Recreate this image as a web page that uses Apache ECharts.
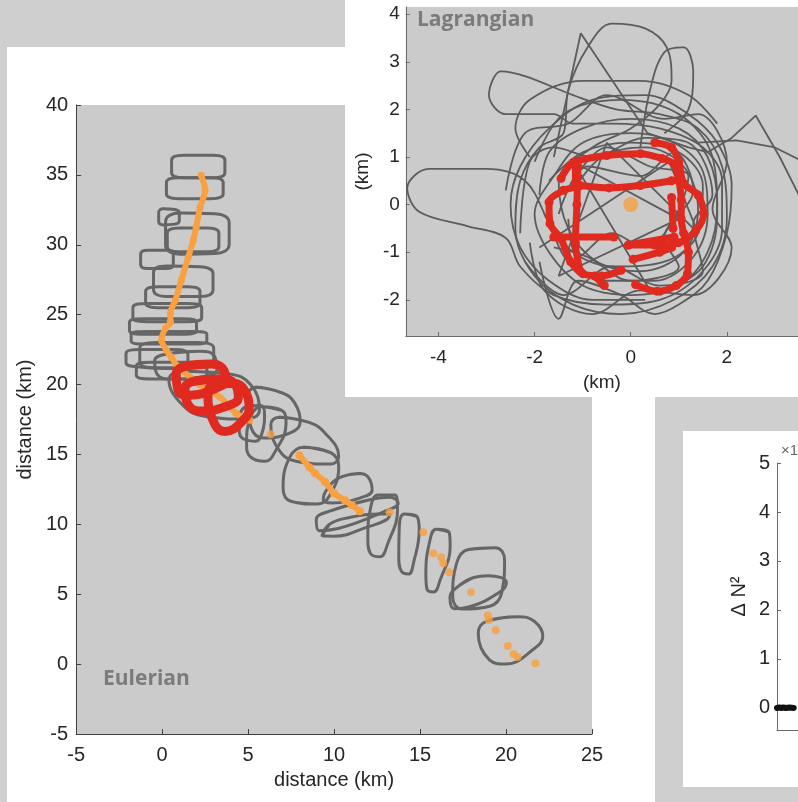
<!DOCTYPE html>
<html>
<head>
<meta charset="utf-8">
<script src="https://cdn.jsdelivr.net/npm/echarts/dist/echarts.min.js"></script>
<style>
  html, body { margin: 0; padding: 0; }
  body { width: 798px; height: 802px; background: #cfcfcf; position: relative; overflow: hidden; }
  .panel { position: absolute; background: #ffffff; }
  #main { left: 7px; top: 47px; width: 648px; height: 755px; }
  #lag { left: 345px; top: 0px; width: 453px; height: 397px; }
  #dn { left: 683px; top: 431px; width: 115px; height: 356px; }
</style>
</head>
<body>
<div id="main" class="panel"></div>
<div id="lag" class="panel"></div>
<div id="dn" class="panel"></div>
<script>
// ---------------- DATA (km) ----------------
// Eulerian ship track: traced loops, 4 corners each (x km, y km)
const eulerLoops = [
  [[0.55,36.4],[3.65,36.4],[3.65,34.8],[0.55,34.8]],
  [[0.25,34.8],[3.55,34.8],[3.55,33.3],[0.25,33.3]],
  [[-0.2,32.6],[1.0,32.5],[1.0,31.5],[-0.2,31.4]],
  [[0.2,32.3],[3.9,32.2],[3.9,29.4],[0.2,29.3]],
  [[0.3,31.2],[3.3,31.2],[3.3,29.5],[0.3,29.5]],
  [[-1.25,29.6],[0.65,29.6],[0.65,28.3],[-1.25,28.3]],
  [[-0.5,28.5],[2.96,28.4],[2.96,26.3],[-0.5,26.3]],
  [[-0.96,27.0],[2.2,27.0],[2.2,25.5],[-0.96,25.5]],
  [[-1.7,25.8],[2.3,25.8],[2.3,24.5],[-1.7,24.5]],
  [[-1.9,24.7],[2.0,24.7],[2.0,23.6],[-1.9,23.6]],
  [[-1.8,23.8],[2.6,23.8],[2.6,22.9],[-1.8,22.9]],
  [[-1.3,23.0],[3.0,23.0],[3.0,21.2],[-1.3,21.2]],
  [[-2.1,22.5],[1.5,22.5],[1.5,21.1],[-2.1,21.3]],
  [[-1.5,21.6],[2.6,21.6],[2.6,20.4],[-1.5,20.4]],
  [[-0.5,22.1],[2.96,22.46],[3.25,20.67],[-0.21,20.31]],
  [[0.08,21.03],[4.98,20.67],[5.85,17.45],[1.52,17.81]],
  [[4.87,19.96],[7.58,19.24],[8.15,16.74],[5.27,16.02]],
  [[5.27,18.53],[7.46,18.03],[6.31,14.38],[4.81,14.95]],
  [[4.58,18.38],[6.02,18.53],[5.73,15.88],[4.46,16.17]],
  [[6.13,17.81],[9.17,17.17],[10.58,14.23],[7.0,14.59]],
  [[7.58,15.67],[10.46,14.95],[9.6,11.37],[6.88,11.73]],
  [[10.0,13.3],[11.9,13.73],[12.3,12.09],[9.19,11.37]],
  [[8.9,10.66],[13.06,12.09],[13.92,11.37],[9.19,9.23]],
  [[9.13,8.87],[9.88,10.3],[13.35,10.87],[12.94,10.16]],
  [[12.19,12.09],[13.92,12.09],[12.88,7.58],[11.9,8.01]],
  [[13.81,10.8],[15.08,10.52],[14.5,6.37],[13.75,6.72]],
  [[15.65,9.73],[16.98,9.37],[15.94,5.08],[15.25,5.44]],
  [[17.21,8.15],[19.98,8.37],[19.69,4.22],[16.81,3.86]],
  [[16.64,5.08],[18.54,6.51],[20.44,5.65],[17.09,3.65]],
  [[18.13,2.93],[21.42,3.51],[22.34,1.57],[19.29,-0.43]]
];
// Eulerian red (sampled) loops
const eulerRedLoops = [
  [[0.77,21.24],[3.42,21.53],[3.77,19.96],[1.0,19.03]],
  [[1.23,20.17],[4.12,20.46],[4.52,18.67],[1.69,17.95]],
  [[2.5,19.96],[4.69,20.1],[5.16,17.81],[3.25,16.31]]
];
// Orange drifter track (dense part)
const orangeTrack = [
  [2.27,34.98],[2.5,33.9],[2.21,32.69],[1.98,31.26],[1.81,30.33],[1.52,29.11],
  [1.12,27.47],[0.77,26.04],[0.48,25.11],[0.48,24.46],[0.19,24.03],[-0.04,23.18],
  [0.25,22.46],[0.54,21.96],[0.94,21.24],[1.63,20.53],[2.21,19.96],[3.37,19.1],
  [4.29,17.95],[5.1,17.45]
];
const orangeCluster = [
  [7.98,14.95],[8.56,14.09],[8.9,13.66],[9.48,13.02],[10.0,12.23],[10.63,11.73],[11.04,11.37],[11.5,10.94]
];
const orangeDots = [
  [6.31,16.45],[13.23,10.87],[15.19,9.44],[15.77,7.94],[16.23,7.65],[16.35,7.22],[16.69,6.58],
  [17.96,5.15],[18.94,3.5],[19.0,3.15],[19.4,2.43],[20.1,1.29],[20.44,0.72],[20.67,0.5],[21.71,0.07]
];

// Lagrangian frame (km)
const lagGrayLoops = [
  [[-1.9,0.2],[-1.7,1.1],[-1.0,1.6],[0.0,1.8],[1.0,1.6],[1.6,1.0],[1.8,0.0],[1.6,-1.0],[1.0,-1.7],[0.0,-1.9],
   [-1.0,-1.7],[-1.7,-1.0],[-2.0,-0.2],[-1.6,0.6],[-1.0,1.3],[0.0,1.5],[0.9,1.3],[1.5,0.7],[1.6,-0.2],[1.3,-1.1],
   [0.5,-1.6],[-0.5,-1.6],[-1.3,-1.2],[-1.7,-0.4],[-2.2,0.5],[-3.0,0.75],[-4.2,0.75],[-4.65,0.35],[-4.4,-0.15],
   [-3.4,-0.45],[-2.6,-0.7],[-2.3,-1.3],[-1.6,-1.9],[-0.5,-2.1],[0.6,-2.0],[1.5,-1.4],[1.9,-0.5],[1.9,0.5],
   [1.5,1.2],[0.6,1.6],[-0.4,1.7],[-1.2,1.7],[-1.6,1.9],[-2.6,1.9],[-2.95,2.3],[-2.7,2.8],[-2.2,2.7],[-1.2,2.3],
   [-0.3,2.0],[0.6,1.9],[1.4,1.6],[1.9,0.8],[2.0,-0.3],[1.7,-1.3],[0.9,-2.0],[-0.2,-2.3],[-1.2,-2.1],[-2.0,-1.5],
   [-2.4,-0.5],[-2.3,0.5],[-1.9,1.2],[-1.4,1.5],[-1.3,2.4],[-0.9,3.3],[-0.4,3.8],[0.3,3.7],[0.75,3.3],[0.85,2.6],
   [0.6,2.1],[0.0,1.6],[-0.8,1.2],[-1.5,0.5],[-1.3,-0.5],[-0.7,-1.2],[0.2,-1.4],[1.1,-1.0],[1.4,-0.1],[1.1,0.8],
   [0.3,1.2],[-0.6,1.0],[-1.2,0.3]],
  [[-1.9,-1.2],[-1.5,-2.4],[-1.1,-1.6],[-0.2,-1.9],[0.5,-2.3],[1.0,-2.1],[1.6,-1.6],[2.0,-0.6],[2.1,0.4],[1.8,1.3],
   [1.2,1.9],[0.3,2.3],[-0.8,2.2],[-1.7,1.6],[-2.3,0.8],[-2.5,0.0],[-2.3,-0.9],[-1.7,-1.6],[-0.8,-2.0],[0.3,-2.0]],
  [[0.2,1.2],[0.4,2.4],[0.7,3.2],[1.1,3.3],[1.3,2.8],[1.2,2.0],[0.7,1.5]],
  [[-2.1,1.0],[-2.4,1.6],[-2.1,2.2],[-1.0,2.6],[0.2,2.6],[1.2,2.3],[1.8,1.7]],
  [[-2.3,-0.6],[-2.1,0.9],[-1.6,1.2],[-0.8,1.0],[0.3,1.4],[1.2,1.3],[1.7,0.2],[1.3,-0.4],[1.5,-1.4],[0.6,-1.7],
   [-0.4,-1.3],[-1.4,-1.9],[-2.2,-1.2]],
  [[-1.5,-0.2],[-0.9,0.8],[0.2,0.6],[0.9,1.1],[1.3,0.3],[0.7,-0.7],[1.0,-1.3],[0.0,-1.6],[-0.9,-1.1],[-1.6,-0.9]],
  [[-2.6,0.3],[-2.2,1.5],[-1.3,1.7],[-0.5,2.3],[0.7,1.8],[1.4,1.9],[2.0,0.9],[1.7,-0.1],[2.1,-0.9],[1.3,-1.9],
   [0.2,-1.8],[-0.8,-2.3],[-1.8,-1.8],[-2.1,-0.8]],
  [[-1.2,0.5],[-0.5,1.2],[0.4,0.8],[1.2,0.6],[0.9,-0.3],[0.3,-0.9],[-0.4,-0.6],[-1.1,-1.1],[-1.3,-0.3]],
  [[-2.0,0.9],[-1.4,1.9],[-0.2,2.2],[1.0,1.9],[1.7,1.0],[1.8,-0.2],[1.5,-1.3],[0.6,-1.9]],
  [[-1.8,-0.2],[-1.2,-1.0],[-0.3,-1.3],[0.7,-1.2],[1.4,-0.6],[1.5,0.4],[1.0,1.1],[0.0,1.3],[-1.0,1.1],[-1.7,0.5]]
];
const lagGrayLines = [
  [[-1.6,1.0],[-1.04,3.6],[0.35,1.5],[1.2,1.2],[1.6,1.1],[2.1,1.4],[2.6,1.87],[3.1,1.0],[3.6,0.0]],
  [[1.4,1.3],[2.2,1.35],[3.0,1.2],[3.6,0.9]],
  [[-1.9,-0.9],[0.8,0.9],[1.4,-0.6],[-0.5,1.3],[-1.5,-1.5],[1.0,-0.3],[-1.2,0.9],[0.4,-1.8]]
];
const lagRedPaths = [
  [[-1.45,0.55],[-1.2,0.88],[-0.5,1.03],[0.2,1.07],[0.65,0.97],[0.9,0.85],[1.0,0.5],[1.05,0.1],[1.05,-0.3],
   [1.1,-0.6],[1.2,-1.0],[1.18,-1.45],[0.95,-1.7],[0.55,-1.82],[0.1,-1.68]],
  [[0.5,1.3],[0.85,1.2],[1.0,0.9],[1.1,0.45],[1.4,0.2],[1.52,-0.2],[1.35,-0.55],[1.0,-0.8],[0.5,-0.85],[-0.05,-0.85]],
  [[-1.15,0.9],[-1.15,0.4],[-1.4,0.3],[-1.7,0.05],[-1.68,-0.4],[-1.45,-0.72],[-1.25,-1.2],[-1.0,-1.45],[-0.6,-1.5],[-0.2,-1.38]],
  [[-1.1,0.8],[-1.12,0.0],[-1.15,-0.8],[-1.05,-1.4]],
  [[-1.05,0.4],[-0.45,0.35],[0.2,0.4],[0.85,0.5]],
  [[-1.6,-0.68],[-0.35,-0.68]],
  [[-0.05,-0.85],[0.9,-0.68]],
  [[0.05,-1.15],[0.6,-1.0],[0.85,-0.9]],
  [[0.85,0.15],[0.88,-0.5]],
  [[-0.55,-1.7],[-0.75,-1.5]]
];
const lagCenter = [[0,0]];

// Delta N^2 panel
const dnValues = [[0,0],[1,0.01],[2,0],[3,0.01],[4,0],[6,0.01],[8,0]];

// ---------------- helpers ----------------
function roundedLoop(q) {
  const p = [];
  for (let i = 0; i < q.length; i++) {
    const a = q[i], b = q[(i + 1) % q.length];
    p.push([a[0] + (b[0] - a[0]) * 0.22, a[1] + (b[1] - a[1]) * 0.22]);
    p.push([a[0] + (b[0] - a[0]) * 0.78, a[1] + (b[1] - a[1]) * 0.78]);
  }
  p.push(p[0], p[1]);
  return p;
}

const FONT = '"Liberation Sans", Arial, Helvetica, sans-serif';
const TXT = '#262626';

// ---------------- main (Eulerian) ----------------
const mainChart = echarts.init(document.getElementById('main'), null, {renderer: 'canvas'});
const mainSeries = [];
eulerLoops.forEach(q => mainSeries.push({
  type: 'line', data: roundedLoop(q), smooth: 0.45, showSymbol: false, silent: true, z: 2,
  lineStyle: {color: '#666666', width: 3}
}));
mainSeries.push({
  type: 'line', data: orangeTrack, smooth: 0.3, showSymbol: true, symbol: 'circle', symbolSize: 7, z: 3,
  itemStyle: {color: '#f9a040'}, lineStyle: {color: '#f9a040', width: 6, cap: 'round'}
});
mainSeries.push({
  type: 'line', data: orangeCluster, smooth: 0.3, showSymbol: true, symbol: 'circle', symbolSize: 8, z: 3,
  itemStyle: {color: '#f9a040'}, lineStyle: {color: '#f9a040', width: 6, cap: 'round'}
});
mainSeries.push({
  type: 'scatter', data: orangeDots, symbolSize: 8, z: 3, itemStyle: {color: '#f9a040'}
});
eulerRedLoops.forEach(q => mainSeries.push({
  type: 'line', data: roundedLoop(q), smooth: 0.45, showSymbol: false, silent: true, z: 4,
  lineStyle: {color: '#e02a1f', width: 9}
}));
mainChart.setOption({
  animation: false,
  grid: {left: 65, top: 58, width: 520, height: 629, show: true, backgroundColor: '#cbcbcb', borderWidth: 0},
  xAxis: {
    type: 'value', min: -5, max: 25, interval: 5,
    name: 'distance (km)', nameLocation: 'middle', nameGap: 36,
    nameTextStyle: {fontSize: 20, color: TXT, fontFamily: FONT},
    axisLine: {show: true, onZero: false, lineStyle: {color: '#404040', width: 1}},
    axisTick: {show: true, inside: true, length: 5, lineStyle: {color: '#404040'}},
    axisLabel: {fontSize: 20, color: TXT, fontFamily: FONT, margin: 11},
    splitLine: {show: false}
  },
  yAxis: {
    type: 'value', min: -5, max: 40, interval: 5,
    name: 'distance (km)', nameLocation: 'middle', nameGap: 36,
    nameTextStyle: {fontSize: 20, color: TXT, fontFamily: FONT},
    axisLine: {show: true, onZero: false, lineStyle: {color: '#404040', width: 1}},
    axisTick: {show: true, inside: true, length: 5, lineStyle: {color: '#404040'}},
    axisLabel: {fontSize: 20, color: TXT, fontFamily: FONT, margin: 8},
    splitLine: {show: false}
  },
  graphic: [{
    type: 'text', x: 96, y: 632, z: 10,
    style: {text: 'Eulerian', font: 'bold 21px "Open Sans", sans-serif', fill: '#7b7b7b', verticalAlign: 'middle'}
  }],
  series: mainSeries
});

// ---------------- Lagrangian inset ----------------
const lagChart = echarts.init(document.getElementById('lag'), null, {renderer: 'canvas'});
const lagSeries = [];
lagGrayLoops.forEach(p => lagSeries.push({
  type: 'line', data: p, smooth: 0.35, showSymbol: false, silent: true, z: 2,
  lineStyle: {color: '#5c5c5c', width: 1.8}
}));
lagGrayLines.forEach(p => lagSeries.push({
  type: 'line', data: p, smooth: false, showSymbol: false, silent: true, z: 2,
  lineStyle: {color: '#5c5c5c', width: 1.8}
}));
lagRedPaths.forEach(p => lagSeries.push({
  type: 'line', data: p, smooth: 0.3, showSymbol: true, symbol: 'circle', symbolSize: 9, z: 3,
  itemStyle: {color: '#e02a1f'}, lineStyle: {color: '#e02a1f', width: 7, cap: 'round'}
}));
lagSeries.push({type: 'scatter', data: lagCenter, symbolSize: 15, z: 4, itemStyle: {color: '#f5a042'}});
const evenOnly = v => (Math.abs(v / 2 - Math.round(v / 2)) < 1e-6 ? String(Math.round(v)) : '');
const intOnly = v => (Math.abs(v - Math.round(v)) < 1e-6 ? String(Math.round(v)) : '');
lagChart.setOption({
  animation: false,
  grid: {left: 59, top: 7, width: 394, height: 333, show: true, backgroundColor: '#cbcbcb', borderWidth: 0},
  xAxis: {
    type: 'value', min: -4.68, max: 3.48, minInterval: 2, maxInterval: 2,
    name: '(km)', nameLocation: 'middle', nameGap: 37,
    nameTextStyle: {fontSize: 19, color: TXT, fontFamily: FONT},
    axisLine: {show: true, onZero: false, lineStyle: {color: '#6a6a6a', width: 1}},
    axisTick: {show: true, inside: true, length: 4, lineStyle: {color: '#6a6a6a'}},
    axisLabel: {fontSize: 19, color: TXT, fontFamily: FONT, margin: 12, formatter: evenOnly, showMinLabel: false, showMaxLabel: false},
    splitLine: {show: false}
  },
  yAxis: {
    type: 'value', min: -2.76, max: 4.15, minInterval: 1, maxInterval: 1,
    name: '(km)', nameLocation: 'middle', nameGap: 29,
    nameTextStyle: {fontSize: 19, color: TXT, fontFamily: FONT},
    axisLine: {show: true, onZero: false, lineStyle: {color: '#6a6a6a', width: 1}},
    axisTick: {show: true, inside: true, length: 4, lineStyle: {color: '#6a6a6a'}},
    axisLabel: {fontSize: 19, color: TXT, fontFamily: FONT, margin: 6, formatter: intOnly, showMinLabel: false, showMaxLabel: false},
    splitLine: {show: false}
  },
  graphic: [{
    type: 'text', x: 72, y: 20, z: 10,
    style: {text: 'Lagrangian', font: 'bold 21px "Open Sans", sans-serif', fill: '#7b7b7b', verticalAlign: 'middle'}
  }],
  series: lagSeries
});

// ---------------- Delta N^2 panel ----------------
const dnChart = echarts.init(document.getElementById('dn'), null, {renderer: 'canvas'});
dnChart.setOption({
  animation: false,
  grid: {left: 94, top: 32, width: 80, height: 267, show: false},
  xAxis: {
    type: 'value', min: 0, max: 10,
    axisLine: {show: true, onZero: false, lineStyle: {color: '#6a6a6a', width: 1}},
    axisTick: {show: false}, axisLabel: {show: false}, splitLine: {show: false}
  },
  yAxis: {
    type: 'value', min: -0.45, max: 5, minInterval: 1, maxInterval: 1,
    name: 'Δ N²', nameLocation: 'middle', nameGap: 28,
    nameTextStyle: {fontSize: 20, color: TXT, fontFamily: FONT},
    axisLine: {show: true, onZero: false, lineStyle: {color: '#6a6a6a', width: 1}},
    axisTick: {show: true, inside: true, length: 4, lineStyle: {color: '#6a6a6a'}},
    axisLabel: {fontSize: 20, color: TXT, fontFamily: FONT, margin: 7, formatter: intOnly, showMinLabel: false},
    splitLine: {show: false}
  },
  graphic: [{
    type: 'text', x: 98, y: 20, z: 10,
    style: {text: '×1', font: '15px ' + FONT, fill: '#666666', verticalAlign: 'middle'}
  }],
  series: [{
    type: 'line', data: dnValues, showSymbol: false, smooth: false,
    lineStyle: {color: '#111111', width: 6, cap: 'round'}
  }]
});
</script>
</body>
</html>
